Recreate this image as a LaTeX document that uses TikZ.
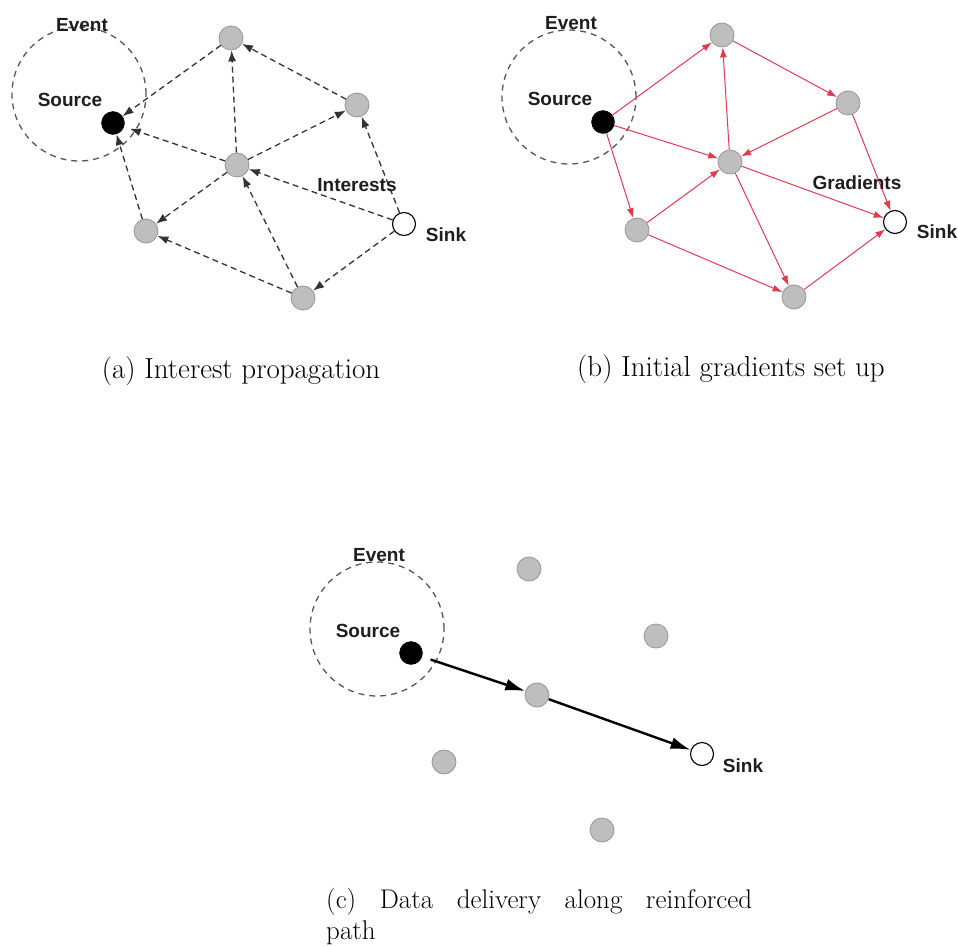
\documentclass[tikz,border=0pt]{standalone}
\usepackage{fontspec}
\newfontfamily\labsans{Liberation Sans}
\usetikzlibrary{arrows.meta}
\definecolor{nodegray}{RGB}{190,190,190}
\definecolor{nodeedge}{RGB}{150,150,150}
\definecolor{gradred}{RGB}{226,58,82}
\definecolor{evgray}{RGB}{85,85,85}
\definecolor{labtext}{RGB}{30,30,30}
\newcommand{\labfont}{\fontsize{19}{22}\selectfont\labsans\bfseries}
\newcommand{\capfont}{\fontsize{29}{34}\selectfont}
\newcommand{\capcfont}{\fontsize{27}{31}\selectfont}
\tikzset{
 relay/.style={circle, fill=nodegray, draw=nodeedge, line width=0.8pt, minimum size=24pt, inner sep=0pt},
 srcnode/.style={circle, fill=black, draw=black, minimum size=23pt, inner sep=0pt},
 sinknode/.style={circle, fill=white, draw=black, line width=1.1pt, minimum size=23pt, inner sep=0pt},
 eventring/.style={circle, draw=evgray, line width=1.3pt, dash pattern=on 6pt off 5pt, minimum size=134pt, inner sep=0pt},
 lab/.style={font=\labfont, text=labtext, inner sep=0pt},
 interest/.style={draw=black!80, line width=1.3pt, dash pattern=on 6pt off 4pt, -{Latex[length=11pt,width=8pt]}},
 gradient/.style={draw=gradred, line width=1pt, -{Latex[length=10pt,width=7pt]}},
 reinforced/.style={draw=black, line width=2.4pt, -{Latex[length=20pt,width=12pt]}},
 capt/.style={font=\capfont, inner sep=0pt},
 captc/.style={font=\capcfont, inner sep=0pt},
}
\begin{document}
\begin{tikzpicture}[x=1pt,y=-1pt]
\useasboundingbox (0,0) rectangle (958,947);
% ---------- (a) ----------
\node[eventring] (ea) at (79,94) {};
\node[srcnode] (sa) at (113,123) {};
\node[relay] (ta) at (231,38) {};
\node[relay] (ra) at (357,105) {};
\node[relay] (ca) at (237,165) {};
\node[relay] (la) at (146,231) {};
\node[relay] (ba) at (303,298) {};
\node[sinknode] (ka) at (404,224) {};
\draw[interest] (ka) -- (ra);
\draw[interest] (ka) -- (ca);
\draw[interest] (ka) -- (ba);
\draw[interest] (ra) -- (ta);
\draw[interest] (ca) -- (ra);
\draw[interest] (ca) -- (ta);
\draw[interest, shorten >=6pt] (ca) -- (sa);
\draw[interest] (ta) -- (sa);
\draw[interest] (la) -- (sa);
\draw[interest] (ca) -- (la);
\draw[interest] (ba) -- (la);
\draw[interest] (ba) -- (ca);
\node[lab] (eventa) at (82,25) {Event};
\node[lab] (sourcea) at (70,100) {Source};
\node[lab] (interests) at (357,185) {Interests};
\node[lab] (sinka) at (446,235) {Sink};
\node[capt, anchor=base] (capa) at (241,378) {(a) Interest propagation};
% ---------- (b) ----------
\node[eventring] (eb) at (569,97) {};
\node[srcnode] (sb) at (603,122) {};
\node[relay] (tb) at (722,35) {};
\node[relay] (rb) at (848,103) {};
\node[relay] (cb) at (730,162) {};
\node[relay] (lb) at (637,230) {};
\node[relay] (bb) at (794,297) {};
\node[sinknode] (kb) at (895,222) {};
\draw[gradient] (sb) -- (tb);
\draw[gradient] (sb) -- (cb);
\draw[gradient] (sb) -- (lb);
\draw[gradient] (cb) -- (tb);
\draw[gradient] (tb) -- (rb);
\draw[gradient] (rb) -- (cb);
\draw[gradient] (lb) -- (cb);
\draw[gradient] (cb) -- (kb);
\draw[gradient] (rb) -- (kb);
\draw[gradient] (cb) -- (bb);
\draw[gradient] (lb) -- (bb);
\draw[gradient] (bb) -- (kb);
\node[lab] (eventb) at (571,23) {Event};
\node[lab] (sourceb) at (560,99) {Source};
\node[lab] (gradients) at (857,183) {Gradients};
\node[lab] (sinkb) at (937,232) {Sink};
\node[capt, anchor=base] (capb) at (731,376) {(b) Initial gradients set up};
% ---------- (c) ----------
\node[eventring] (ec) at (377,629) {};
\node[srcnode] (sc) at (411,653) {};
\node[relay] (tc) at (529,569) {};
\node[relay] (rc) at (656,636) {};
\node[relay] (cc) at (537,695) {};
\node[relay] (lc) at (444,762) {};
\node[relay] (bc) at (602,830) {};
\node[sinknode] (kc) at (702,754) {};
\draw[reinforced, shorten <=9pt] (sc) -- (cc);
\draw[reinforced] (cc) -- (kc);
\node[lab] (eventc) at (379,555) {Event};
\node[lab] (sourcec) at (368,631) {Source};
\node[lab] (sinkc) at (743,766) {Sink};
\node[captc, anchor=north west, align=left] (capc) at (326,888)
  {\makebox[426pt][s]{(c) Data delivery along reinforced}\\path};
\end{tikzpicture}
\end{document}
